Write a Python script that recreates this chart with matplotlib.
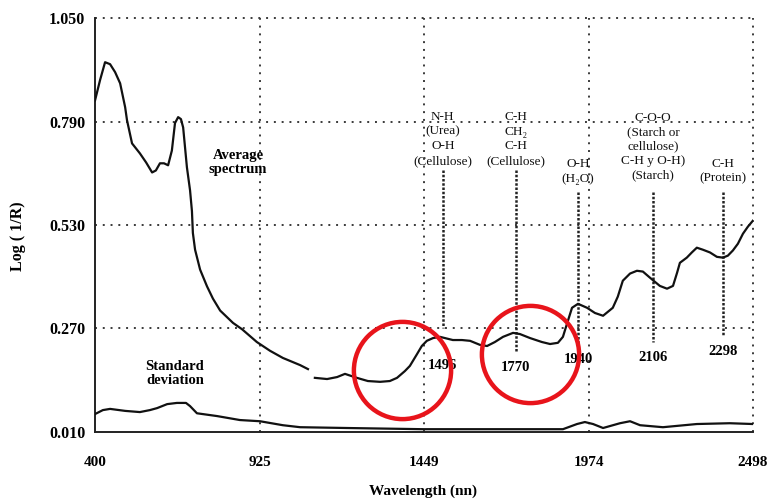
import matplotlib
matplotlib.use("Agg")
import matplotlib.pyplot as plt

plt.rcParams['font.family'] = ['Liberation Serif', 'DejaVu Serif']

# axis ticks
x_ticks = [400, 925, 1449, 1974, 2498]
y_ticks = [0.010, 0.270, 0.530, 0.790, 1.050]
y_tick_labels = ['0.010', '0.270', '0.530', '0.790', '1.050']

# average spectrum (two pieces, gap near 1090 nm)
avg_x1 = [400, 416, 432, 448, 464, 480, 496, 502, 518, 543, 563, 582, 594, 607, 620,
          633, 645, 655, 665, 674, 681, 693, 703, 709, 712, 719, 735, 757, 776, 799,
          840, 869, 916, 958, 999, 1054, 1079]
avg_y1 = [0.843, 0.894, 0.939, 0.934, 0.914, 0.886, 0.826, 0.793, 0.735, 0.710, 0.687,
          0.662, 0.667, 0.685, 0.685, 0.680, 0.717, 0.786, 0.801, 0.796, 0.775, 0.675,
          0.617, 0.565, 0.510, 0.468, 0.418, 0.376, 0.345, 0.315, 0.284, 0.268,
          0.236, 0.214, 0.196, 0.178, 0.168]
avg_x2 = [1101, 1140, 1172, 1197, 1235, 1270, 1309, 1340, 1363, 1388, 1404, 1427, 1442,
          1458, 1478, 1500, 1541, 1570, 1596, 1627, 1650, 1675, 1701, 1733, 1755, 1787,
          1825, 1851, 1876, 1892, 1905, 1921, 1940, 1969, 1994, 2020, 2051, 2067, 2083,
          2106, 2128, 2147, 2169, 2201, 2224, 2243, 2256, 2265, 2287, 2303, 2319, 2338,
          2361, 2383, 2402, 2418, 2434, 2450, 2466, 2482, 2498]
avg_y2 = [0.146, 0.143, 0.148, 0.156, 0.146, 0.138, 0.136, 0.138, 0.146, 0.163, 0.176,
          0.206, 0.226, 0.239, 0.246, 0.249, 0.241, 0.241, 0.239, 0.229, 0.226, 0.236,
          0.249, 0.259, 0.256, 0.246, 0.236, 0.231, 0.234, 0.249, 0.282, 0.322, 0.332,
          0.322, 0.309, 0.302, 0.322, 0.350, 0.390, 0.408, 0.415, 0.413, 0.398, 0.377,
          0.370, 0.377, 0.410, 0.435, 0.448, 0.461, 0.473, 0.468, 0.461, 0.450, 0.448,
          0.453, 0.466, 0.483, 0.508, 0.526, 0.541]

# standard deviation
std_x = [400, 425, 448, 496, 543, 575, 598, 630, 661, 690, 703, 725, 789, 862, 926,
         999, 1054, 1203, 1446, 1892, 1937, 1962, 1988, 2020, 2074, 2106, 2138, 2211,
         2319, 2424, 2498]
std_y = [0.055, 0.065, 0.068, 0.063, 0.060, 0.065, 0.070, 0.080, 0.083, 0.083, 0.075,
         0.057, 0.050, 0.040, 0.037, 0.027, 0.022, 0.020, 0.017, 0.017, 0.030, 0.035,
         0.030, 0.020, 0.032, 0.037, 0.027, 0.022, 0.030, 0.032, 0.030]

# absorption bands: label, x, text y, line top, line bottom
band_labels = ['1496', '1770', '1940', '2106', '2298']
band_x = [1509, 1742, 1940, 2179, 2402]
band_label_y = [0.176, 0.173, 0.191, 0.198, 0.211]
band_top = [0.668, 0.668, 0.612, 0.612, 0.612]
band_bottom = [0.271, 0.211, 0.228, 0.236, 0.254]
band_names = ['N-H\n(Urea)\nO-H\n(Cellulose)',
              'C-H\nCH\u2082\nC-H\n(Cellulose)',
              'O-H\n(H\u2082O)',
              'C-O-O\n(Starch or\ncellulose)\nC-H y O-H)\n(Starch)',
              'C-H\n(Protein)']
band_name_y = [0.746, 0.746, 0.665, 0.727, 0.665]

# highlighted regions
circle_x = [1379, 1787]
circle_y = [0.166, 0.206]

fig = plt.figure(figsize=(7.67, 4.99), dpi=100)
ax = fig.add_axes([0.1239, 0.1343, 0.8578, 0.8296])

grid_kw = dict(color='#3a3a3a', lw=1.4, linestyle=(0, (1, 3)), clip_on=False, zorder=1)
for xv in x_ticks[1:]:
    ax.axvline(xv, **grid_kw)
for yv in y_ticks[1:]:
    ax.axhline(yv, **grid_kw)

for i in range(len(band_x)):
    ax.plot([band_x[i], band_x[i]], [band_top[i], band_bottom[i]], color='#222222',
            lw=1.8, linestyle=(0, (1, 0.7)), zorder=2)
    ax.text(band_x[i], band_label_y[i], band_labels[i], ha='center', va='center',
            fontsize=10.5, fontweight='bold')
    ax.text(band_x[i], band_name_y[i], band_names[i], ha='center', va='center',
            fontsize=9.5, linespacing=1.28, color='#111111')

ax.plot(avg_x1, avg_y1, color='#111111', lw=1.6, zorder=3)
ax.plot(avg_x2, avg_y2, color='#111111', lw=1.6, zorder=3)
ax.plot(std_x, std_y, color='#111111', lw=1.6, zorder=3)

ax.text(856, 0.688, 'Average\nspectrum', ha='center', va='center', fontsize=10.5,
        fontweight='bold', linespacing=1.1)
ax.text(655, 0.158, 'Standard\ndeviation', ha='center', va='center', fontsize=10.5,
        fontweight='bold', linespacing=1.1)

ax.plot(circle_x, circle_y, 'o', ms=70, mfc='none', mec='#e8141b', mew=3.2, zorder=5,
        linestyle='none', clip_on=False)

ax.set_xlim(400, 2498)
ax.set_ylim(0.010, 1.050)
ax.set_xticks(x_ticks)
ax.set_xticklabels([str(v) for v in x_ticks], fontsize=11, fontweight='bold')
ax.set_yticks(y_ticks)
ax.set_yticklabels(y_tick_labels, fontsize=11.5, fontweight='bold')
ax.tick_params(axis='both', length=0)
ax.tick_params(axis='x', pad=17)
ax.tick_params(axis='y', pad=7)

for side in ['top', 'right']:
    ax.spines[side].set_visible(False)
for side in ['left', 'bottom']:
    ax.spines[side].set_linewidth(1.4)
    ax.spines[side].set_color('#222222')

ax.set_xlabel('Wavelength (nn)', fontsize=11, fontweight='bold', va='center')
ax.set_ylabel('Log ( 1/R)', fontsize=11.5, fontweight='bold', va='center')
ax.xaxis.set_label_coords(0.498, -0.1425)
ax.yaxis.set_label_coords(-0.117, 0.473)

fig.savefig('out.png', dpi=100)
